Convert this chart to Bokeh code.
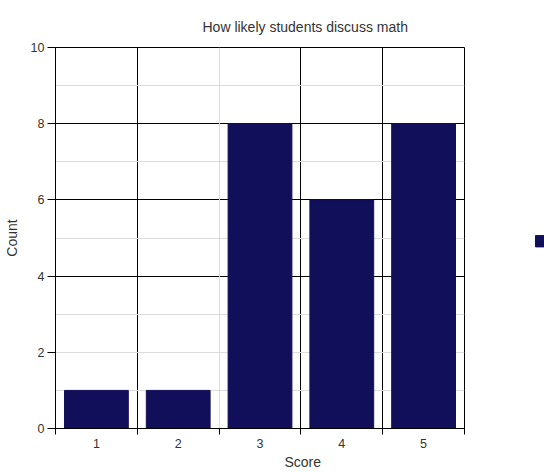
from bokeh.plotting import figure
from bokeh.layouts import row
from bokeh.models import FixedTicker, Grid, Title, ColumnDataSource
from bokeh.embed import file_html
from bokeh.resources import INLINE

# Survey results: how likely students are to discuss math (score 1-5)
scores = [1, 2, 3, 4, 5]
score_labels = ["1", "2", "3", "4", "5"]
counts = [1, 1, 8, 6, 8]

FONT = "Liberation Sans"
TEXT = "#333333"
BAR = "#120f5a"

src = ColumnDataSource(dict(score=scores, count=counts))

p = figure(width=490, height=472, output_backend="svg", toolbar_location=None,
           x_range=(0.5, 5.5), y_range=(0, 10),
           min_border_left=55, min_border_right=26,
           min_border_top=47, min_border_bottom=44)
p.title = None
p.background_fill_color = "white"
p.border_fill_color = "white"
p.outline_line_color = "black"
p.outline_line_width = 1

bars = p.vbar(x="score", top="count", width=0.78, source=src,
              fill_color=BAR, line_color=BAR)

# x axis: labels at category centres, tick marks at category boundaries
p.xaxis.ticker = FixedTicker(ticks=scores,
                             minor_ticks=[0.5, 1.5, 2.5, 3.5, 4.5, 5.5])
p.xaxis.major_label_overrides = {s: l for s, l in zip(scores, score_labels)}
p.xaxis.major_tick_line_color = None
p.xaxis.minor_tick_out = 6
p.xaxis.minor_tick_in = 0
p.xaxis.minor_tick_line_color = "black"
p.xaxis.axis_line_color = "black"
p.xaxis.major_label_text_font = FONT
p.xaxis.major_label_text_font_size = "12.5px"
p.xaxis.major_label_text_color = TEXT
p.xaxis.major_label_standoff = 4

# y axis
p.yaxis.ticker = FixedTicker(ticks=[0, 2, 4, 6, 8, 10], minor_ticks=[])
p.yaxis.major_tick_out = 8
p.yaxis.major_tick_in = 0
p.yaxis.major_tick_line_color = "black"
p.yaxis.axis_line_color = "black"
p.yaxis.major_label_text_font = FONT
p.yaxis.major_label_text_font_size = "12.5px"
p.yaxis.major_label_text_color = TEXT
p.yaxis.major_label_standoff = 3
p.yaxis.axis_label = "Count"
p.yaxis.axis_label_text_font = FONT
p.yaxis.axis_label_text_font_size = "14px"
p.yaxis.axis_label_text_font_style = "normal"
p.yaxis.axis_label_text_color = TEXT
p.yaxis.axis_label_standoff = 8

# grid lines
p.xgrid.ticker = FixedTicker(ticks=[1.5, 3.5, 4.5])
p.xgrid.grid_line_color = "black"
p.ygrid.ticker = FixedTicker(ticks=[4, 6, 8])
p.ygrid.grid_line_color = "black"
light_y = Grid(dimension=1, ticker=FixedTicker(ticks=[1, 2, 3, 5, 7, 9]),
               grid_line_color="#dcdcdc")
light_x = Grid(dimension=0, ticker=FixedTicker(ticks=[2.5]),
               grid_line_color="#dcdcdc")
p.add_layout(light_y)
p.add_layout(light_x)
p.renderers.insert(0, p.renderers.pop(p.renderers.index(bars)))

# titles
p.add_layout(Title(text="How likely students discuss math", align="left",
                   offset=147, text_font=FONT, text_font_size="14px",
                   text_font_style="normal", text_color=TEXT,
                   standoff=26), "above")
p.add_layout(Title(text="Score", align="left", offset=229, text_font=FONT,
                   text_font_size="14px", text_font_style="normal",
                   text_color=TEXT, standoff=3), "below")

# legend swatch panel on the right, in pixel-like coordinates
q = figure(width=54, height=472, output_backend="svg", toolbar_location=None,
           x_range=(0, 54), y_range=(472, 0),
           min_border=0, min_border_left=0, min_border_right=0,
           min_border_top=0, min_border_bottom=0)
q.axis.visible = False
q.grid.visible = False
q.outline_line_color = None
q.background_fill_color = "white"
q.border_fill_color = "white"
q.rect(x=[52], y=[240], width=14, height=14, fill_color=BAR, line_color=BAR)

layout = row(p, q, spacing=0)
open("out.html", "w").write(file_html(layout, INLINE))
